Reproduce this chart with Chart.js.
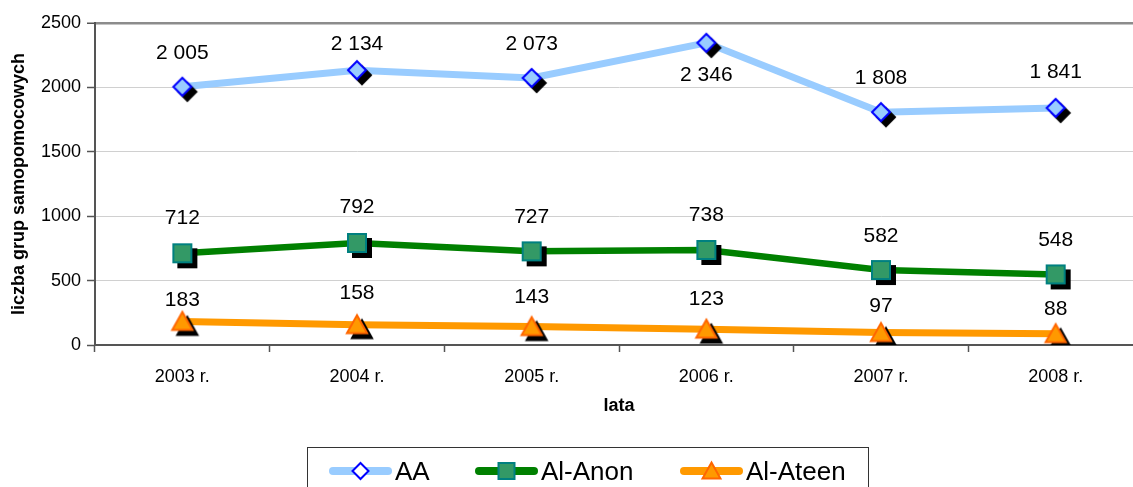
<!DOCTYPE html>
<html>
<head>
<meta charset="utf-8">
<title>Grupy samopomocowe</title>
<script src="https://cdn.jsdelivr.net/npm/chart.js@4.4.1/dist/chart.umd.min.js"></script>
<style>
  html, body { margin: 0; padding: 0; background: #fff; overflow: hidden; }
  #wrap { width: 1133px; height: 487px; overflow: hidden; }
</style>
</head>
<body>
<div id="wrap"><canvas id="chart" width="1160" height="487"></canvas></div>
<script>
// categories and series
const years = ['2003 r.', '2004 r.', '2005 r.', '2006 r.', '2007 r.', '2008 r.'];
const aaValues = [2005, 2134, 2073, 2346, 1808, 1841];
const alAnonValues = [712, 792, 727, 738, 582, 548];
const alAteenValues = [183, 158, 143, 123, 97, 88];
const yTicks = [0, 500, 1000, 1500, 2000, 2500];
const seriesNames = ['AA', 'Al-Anon', 'Al-Ateen'];

// vertical offset (px) of each value label from its marker
const aaLabelOffsets = [-34, -26, -34, 32, -34, -36];
const alAnonLabelOffsets = [-35, -36, -34, -35, -34, -34];
const alAteenLabelOffsets = [-21, -31, -29, -30, -26, -24];

const FONT = '"Liberation Sans", Arial, sans-serif';

const styles = [
  { shape: 'diamond', line: '#99ccff', fill: '#99ccff', legendFill: '#ffffff', stroke: '#0000ff', width: 7 },
  { shape: 'square', line: '#008000', fill: '#339966', legendFill: '#339966', stroke: '#008080', width: 6.5 },
  { shape: 'triangle', line: '#ff9900', fill: '#ff9900', legendFill: '#ff9900', stroke: '#ff6600', width: 7 },
];

/**
 * Draws one marker shape centred on (x, y).
 */
function drawShape(ctx, shape, x, y, s, fill, stroke) {
  ctx.beginPath();
  if (shape === 'diamond') {
    ctx.moveTo(x, y - s);
    ctx.lineTo(x + s, y);
    ctx.lineTo(x, y + s);
    ctx.lineTo(x - s, y);
    ctx.closePath();
  } else if (shape === 'square') {
    ctx.rect(x - s, y - s, 2 * s, 2 * s);
  } else {
    ctx.moveTo(x, y - s * 1.05);
    ctx.lineTo(x + s * 1.12, y + s * 0.95);
    ctx.lineTo(x - s * 1.12, y + s * 0.95);
    ctx.closePath();
  }
  ctx.fillStyle = fill;
  ctx.fill();
  ctx.lineWidth = 2;
  ctx.strokeStyle = stroke;
  ctx.stroke();
}

/**
 * Builds a point image: black drop shadow + coloured marker.
 */
function makeMarker(st) {
  const c = document.createElement('canvas');
  c.width = 38;
  c.height = 38;
  const ctx = c.getContext('2d');
  drawShape(ctx, st.shape, 19 + 5, 19 + 5, 9, '#000', '#000');
  drawShape(ctx, st.shape, 19, 19, 9, st.fill, st.stroke);
  return c;
}

function fmt(v) {
  return String(v).replace(/\B(?=(\d{3})+(?!\d))/g, ' ');
}

const labelOffsets = [aaLabelOffsets, alAnonLabelOffsets, alAteenLabelOffsets];

// value labels, axis titles and the boxed legend
const decorPlugin = {
  id: 'decor',
  afterDatasetsDraw(chart) {
    const ctx = chart.ctx;
    ctx.save();
    ctx.font = '21px ' + FONT;
    ctx.fillStyle = '#000';
    ctx.textAlign = 'center';
    ctx.textBaseline = 'middle';
    chart.data.datasets.forEach((ds, i) => {
      const meta = chart.getDatasetMeta(i);
      meta.data.forEach((el, j) => {
        ctx.fillText(fmt(ds.data[j]), el.x, el.y + labelOffsets[i][j]);
      });
    });
    ctx.restore();
  },
  afterDraw(chart) {
    const ctx = chart.ctx;
    const area = chart.chartArea;
    ctx.save();
    // axis titles
    ctx.font = 'bold 18px ' + FONT;
    ctx.fillStyle = '#000';
    ctx.textAlign = 'center';
    ctx.textBaseline = 'middle';
    ctx.fillText('lata', (area.left + area.right) / 2, 406);
    ctx.translate(19, (area.top + area.bottom) / 2);
    ctx.rotate(-Math.PI / 2);
    ctx.fillText('liczba grup samopomocowych', 0, 0);
    ctx.restore();

    // legend
    ctx.save();
    ctx.strokeStyle = '#333';
    ctx.lineWidth = 1;
    ctx.strokeRect(307.5, 447.5, 561, 50);
    const starts = [329, 475, 680];
    const cy = 471;
    ctx.font = '26px ' + FONT;
    ctx.textBaseline = 'middle';
    ctx.textAlign = 'left';
    styles.forEach((st, i) => {
      const x0 = starts[i];
      ctx.beginPath();
      ctx.lineCap = 'round';
      ctx.lineWidth = 8;
      ctx.strokeStyle = st.line;
      ctx.moveTo(x0 + 4, cy);
      ctx.lineTo(x0 + 59, cy);
      ctx.stroke();
      drawShape(ctx, st.shape, x0 + 31.5, cy, 8, st.legendFill, st.stroke);
      ctx.fillStyle = '#000';
      ctx.fillText(seriesNames[i], x0 + 66, cy + 2);
    });
    ctx.restore();
  },
};

function buildDataset(label, values, st) {
  return {
    label: label,
    data: values,
    borderColor: st.line,
    backgroundColor: st.fill,
    borderWidth: st.width,
    pointStyle: makeMarker(st),
    pointRadius: 10,
    pointHoverRadius: 10,
    tension: 0,
    fill: false,
  };
}

function initChart() {
  const ctx = document.getElementById('chart').getContext('2d');
  new Chart(ctx, {
    type: 'line',
    data: {
      labels: years,
      datasets: [
        buildDataset(seriesNames[0], aaValues, styles[0]),
        buildDataset(seriesNames[1], alAnonValues, styles[1]),
        buildDataset(seriesNames[2], alAteenValues, styles[2]),
      ],
    },
    options: {
      responsive: false,
      animation: false,
      devicePixelRatio: 1,
      layout: { padding: { left: 0, right: 4, top: 23, bottom: 0 } },
      plugins: {
        legend: { display: false },
        tooltip: { enabled: false },
        title: { display: false },
      },
      scales: {
        x: {
          offset: true,
          grid: {
            offset: true,
            drawOnChartArea: false,
            drawTicks: true,
            tickLength: 7,
            tickColor: '#555',
            tickWidth: 1.5,
          },
          border: { color: '#555', width: 2 },
          ticks: { color: '#000', font: { family: FONT, size: 18 }, padding: 14, maxRotation: 0 },
          afterFit(scale) { scale.height = 142; },
        },
        y: {
          min: 0,
          max: 2500,
          afterBuildTicks(scale) { scale.ticks = yTicks.map((v) => ({ value: v })); },
          grid: {
            color: (c) => (c.tick && c.tick.value === 2500 ? '#8c8c8c' : '#d0d0d0'),
            lineWidth: (c) => (c.tick && c.tick.value === 2500 ? 2.5 : 1),
            tickLength: 8,
            tickColor: '#555',
            tickWidth: 1.5,
          },
          border: { color: '#555', width: 2 },
          ticks: {
            color: '#000',
            font: { family: FONT, size: 18 },
            padding: 6,
            callback: (v) => String(v),
          },
          afterFit(scale) { scale.width = 95; },
        },
      },
    },
    plugins: [decorPlugin],
  });
}

document.addEventListener('DOMContentLoaded', initChart);
</script>
</body>
</html>
